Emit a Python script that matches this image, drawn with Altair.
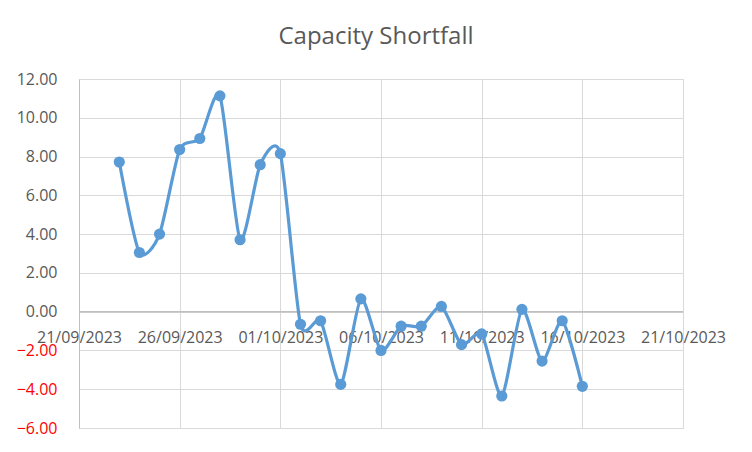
import altair as alt
import pandas as pd

dates = ["2023-09-23", "2023-09-24", "2023-09-25", "2023-09-26", "2023-09-27", "2023-09-28",
         "2023-09-29", "2023-09-30", "2023-10-01", "2023-10-02", "2023-10-03", "2023-10-04",
         "2023-10-05", "2023-10-06", "2023-10-07", "2023-10-08", "2023-10-09", "2023-10-10",
         "2023-10-11", "2023-10-12", "2023-10-13", "2023-10-14", "2023-10-15", "2023-10-16"]
values = [7.72, 3.05, 4.00, 8.36, 8.93, 11.13, 3.71, 7.58, 8.15, -0.65, -0.47, -3.75,
          0.66, -2.00, -0.75, -0.75, 0.27, -1.70, -1.15, -4.35, 0.12, -2.55, -0.47, -3.85]
tick_dates = [(2023, 9, 21), (2023, 9, 26), (2023, 10, 1), (2023, 10, 6),
              (2023, 10, 11), (2023, 10, 16), (2023, 10, 21)]
y_ticks = [-6, -4, -2, 0, 2, 4, 6, 8, 10, 12]
title_text = "Capacity Shortfall"

df = pd.DataFrame({"date": dates, "value": values})
zero_df = pd.DataFrame({"value": [0]})

FONT = "Open Sans"
TXT = "#595959"
GRID = "#d9d9d9"
AXIS = "#bfbfbf"
BLUE = "#5B9BD5"

tick_vals = [alt.DateTime(year=y, month=m, date=d, utc=True) for (y, m, d) in tick_dates]

x_enc = alt.X(
    "date:T",
    scale=alt.Scale(type="utc", domain=[tick_vals[0], tick_vals[-1]], nice=False),
    axis=alt.Axis(
        values=tick_vals,
        labelExpr="utcFormat(datum.value, '%d/%m/%Y')",
        title=None,
        grid=True,
        gridColor=GRID,
        gridWidth=1,
        domain=False,
        ticks=False,
        labelFont=FONT,
        labelFontSize=16,
        labelColor=TXT,
        labelPadding=-99,
        labelBaseline="top",
        labelOverlap=False,
        labelBound=False,
        labelFlush=False,
    ),
)
y_axis = alt.Axis(
    values=y_ticks,
    tickCount=10,
    format=".2f",
    title=None,
    grid=True,
    gridColor=GRID,
    gridWidth=1,
    domain=True,
    domainColor=AXIS,
    domainWidth=1,
    ticks=False,
    labelFont=FONT,
    labelFontSize=16,
    labelColor={"expr": "datum.value < 0 ? '#ff0000' : '#595959'"},
    labelPadding=22,
    labelOverlap=False,
    labelBound=False,
    labelFlush=False,
)
y_scale = alt.Scale(domain=[-6, 12], nice=False, zero=False)

def y_enc():
    return alt.Y("value:Q", scale=y_scale, axis=y_axis)

base = alt.Chart(df)
zero = alt.Chart(zero_df).mark_rule(color=AXIS, strokeWidth=1.5).encode(y=y_enc())
line = base.mark_line(interpolate="cardinal", tension=0.3, color=BLUE, strokeWidth=3.2).encode(
    x=x_enc, y=y_enc())
pts = base.mark_point(filled=True, color=BLUE, size=125, opacity=1).encode(x=x_enc, y=y_enc())

chart = (
    alt.layer(zero, line, pts)
    .properties(
        width=604,
        height=349,
        autosize=alt.AutoSizeParams(type="none"),
        padding={"left": 71, "top": 71, "right": 61, "bottom": 16},
        title=alt.TitleParams(
            title_text, font=FONT, fontSize=24, fontWeight="normal", color=TXT,
            anchor="middle", offset=22, dx=-5,
        ),
    )
    .configure_view(stroke=None)
    .configure_axis(labelOverlap=False)
    .configure(background="white")
)

chart.save("out.html", embed_options={"renderer": "svg", "actions": False})
